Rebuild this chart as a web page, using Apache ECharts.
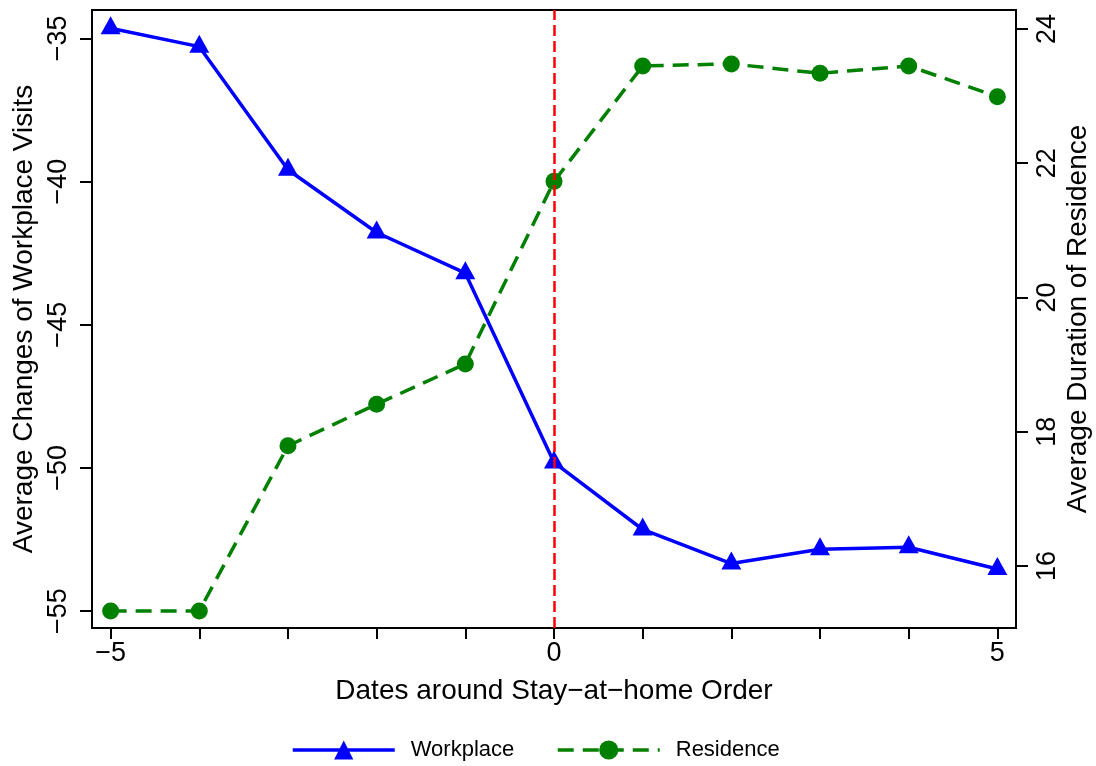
<!DOCTYPE html>
<html>
<head>
<meta charset="utf-8">
<script src="https://cdn.jsdelivr.net/npm/echarts@6/dist/echarts.min.js"></script>
<style>
html,body{margin:0;padding:0;background:#fff;}
#chart{width:1096px;height:766px;}
</style>
</head>
<body>
<div id="chart"></div>
<script>
// Data
const days = [-5, -4, -3, -2, -1, 0, 1, 2, 3, 4, 5];
const workplace = [-34.65, -35.29, -39.59, -41.78, -43.20, -49.81, -52.15, -53.34, -52.84, -52.77, -53.53];
const residence = [15.33, 15.33, 17.79, 18.41, 19.01, 21.73, 23.45, 23.48, 23.34, 23.45, 22.99];
const xTickValues = [-5, -4, -3, -2, -1, 0, 1, 2, 3, 4, 5];
const xLabelValues = [-5, 0, 5];
const leftTicks = [-55, -50, -45, -40, -35];
const rightTicks = [16, 18, 20, 22, 24];
const orderDay = 0;

const FONT = '"Liberation Sans", Arial, Helvetica, sans-serif';
const minus = v => String(v).replace('-', '\u2212');

const chart = echarts.init(document.getElementById('chart'), null, {renderer: 'canvas'});
const legendBase = {
  top: 739, orient: 'horizontal', padding: 0,
  itemWidth: 102, itemHeight: 24,
  lineStyle: {width: 3.5},
  textStyle: {fontSize: 22, color: '#000', fontFamily: FONT, padding: [0, 0, 0, 11]}
};
const option = {
  animation: false,
  backgroundColor: '#ffffff',
  textStyle: {fontFamily: FONT, color: '#000'},
  grid: {left: 92, right: 80, top: 10, bottom: 138, show: true, borderColor: '#000', borderWidth: 2,
         containLabel: false, outerBoundsMode: 'none'},
  xAxis: {
    type: 'value', min: -5.21, max: 5.21,
    name: 'Dates around Stay\u2212at\u2212home Order', nameLocation: 'middle', nameGap: 49,
    nameTextStyle: {fontSize: 28, color: '#000', fontFamily: FONT},
    axisLine: {show: true, onZero: false, lineStyle: {color: '#000', width: 2}},
    axisTick: {show: true, length: 11, lineStyle: {color: '#000', width: 2}, customValues: xTickValues},
    axisLabel: {fontSize: 27, color: '#000', margin: 12, customValues: xLabelValues, formatter: minus, fontFamily: FONT},
    splitLine: {show: false}
  },
  yAxis: [
    {
      type: 'value', min: -55.59, max: -34.01, position: 'left',
      name: 'Average Changes of Workplace Visits', nameLocation: 'middle', nameGap: 54, nameMoveOverlap: false,
      nameTextStyle: {fontSize: 28, color: '#000', fontFamily: FONT},
      axisLine: {show: true, onZero: false, lineStyle: {color: '#000', width: 2}},
      axisTick: {show: true, length: 12, lineStyle: {color: '#000', width: 2}, customValues: leftTicks},
      axisLabel: {fontSize: 27, color: '#000', margin: 20, rotate: 90, customValues: leftTicks, formatter: minus, fontFamily: FONT},
      splitLine: {show: false}
    },
    {
      type: 'value', min: 15.076, max: 24.283, position: 'right',
      name: 'Average Duration of Residence', nameLocation: 'middle', nameGap: 48, nameMoveOverlap: false,
      nameTextStyle: {fontSize: 28, color: '#000', fontFamily: FONT},
      axisLine: {show: true, onZero: false, lineStyle: {color: '#000', width: 2}},
      axisTick: {show: true, length: 12, lineStyle: {color: '#000', width: 2}, customValues: rightTicks},
      axisLabel: {fontSize: 27, color: '#000', margin: 18, rotate: 90, customValues: rightTicks, formatter: minus, fontFamily: FONT},
      splitLine: {show: false}
    }
  ],
  legend: [
    Object.assign({}, legendBase, {data: ['Workplace'], left: 291}),
    Object.assign({}, legendBase, {data: ['Residence'], left: 556})
  ],
  series: [
    {
      name: 'Workplace', type: 'line', yAxisIndex: 0,
      data: days.map((d, i) => [d, workplace[i]]),
      symbol: 'triangle', symbolSize: [20, 18], symbolOffset: [0, -3],
      lineStyle: {color: '#0000ff', width: 3.5},
      itemStyle: {color: '#0000ff'},
      z: 3,
      markLine: {
        silent: true, symbol: 'none', animation: false,
        label: {show: false},
        lineStyle: {color: '#ff0000', type: [11, 5], width: 2.5},
        data: [{xAxis: orderDay}]
      }
    },
    {
      name: 'Residence', type: 'line', yAxisIndex: 1,
      data: days.map((d, i) => [d, residence[i]]),
      symbol: 'circle', symbolSize: 17,
      lineStyle: {color: '#008000', width: 3.5, type: [16, 9]},
      itemStyle: {color: '#008000'},
      z: 4
    }
  ]
};
chart.setOption(option);
</script>
</body>
</html>
